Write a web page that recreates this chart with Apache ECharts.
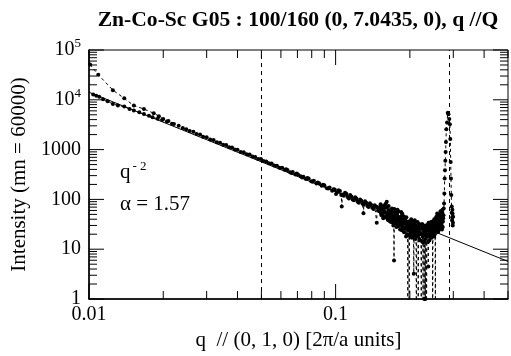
<!DOCTYPE html>
<html>
<head>
<meta charset="utf-8">
<script src="https://cdn.jsdelivr.net/npm/echarts@6/dist/echarts.min.js"></script>
<style>
  html, body { margin: 0; padding: 0; background: #fff; }
  #chart { width: 511px; height: 356px; }
</style>
</head>
<body>
<div id="chart"></div>
<script>
// [q, intensity]
const scanLowQ = [
  [0.0101, 51000], [0.0109, 32000], [0.0125, 15600], [0.0139, 10700], [0.0152, 7640],
  [0.0167, 6530], [0.0183, 5370], [0.0192, 4700], [0.0200, 4100], [0.0210, 3750],
  [0.0221, 3250], [0.0231, 3000]
];
const scanMid = [
  [0.0240, 2700], [0.0248, 2560], [0.0256, 2350], [0.0265, 2280], [0.0273, 2050],
  [0.0282, 2010], [0.0290, 1820], [0.0300, 1780], [0.0310, 1600], [0.0320, 1560],
  [0.0330, 1400], [0.0340, 1380], [0.0350, 1250], [0.0360, 1230], [0.0370, 1120],
  [0.0380, 1100], [0.0390, 1000], [0.0400, 995], [0.0412, 900], [0.0424, 880],
  [0.0436, 805], [0.0448, 795], [0.0460, 725], [0.0472, 712], [0.0485, 650],
  [0.0498, 645], [0.0510, 588], [0.0523, 580], [0.0536, 532], [0.0550, 525],
  [0.0564, 478], [0.0578, 476], [0.0592, 433], [0.0607, 430], [0.0622, 392],
  [0.0638, 390], [0.0654, 352], [0.0670, 355], [0.0687, 316], [0.0704, 318],
  [0.0722, 290], [0.0740, 286], [0.0758, 258], [0.0777, 262], [0.0796, 232],
  [0.0816, 236], [0.0836, 208], [0.0857, 212], [0.0878, 188], [0.0900, 192],
  [0.0922, 168], [0.0945, 174], [0.0968, 150], [0.0992, 158], [0.1016, 140],
  [0.1041, 148], [0.1059, 72], [0.1066, 126], [0.1092, 136], [0.1118, 112],
  [0.1145, 122], [0.1172, 100], [0.1200, 110], [0.1228, 90], [0.1257, 100],
  [0.1286, 82], [0.1297, 53], [0.1316, 92], [0.1346, 74], [0.1377, 84],
  [0.1408, 68], [0.1440, 76], [0.1468, 34], [0.1472, 70], [0.1505, 58]
];
const scanMidExtra = [
  [0.0630, 405], [0.0662, 340], [0.0695, 330], [0.0731, 276], [0.0767, 270],
  [0.0806, 226], [0.0846, 218], [0.0889, 196], [0.0933, 165], [0.0980, 160],
  [0.1004, 128], [0.1028, 152], [0.1054, 122], [0.1079, 118], [0.1105, 130],
  [0.1131, 104], [0.1158, 114], [0.1186, 96], [0.1214, 104], [0.1242, 86],
  [0.1271, 94], [0.1301, 78], [0.1331, 86], [0.1361, 70], [0.1392, 78],
  [0.1424, 64], [0.1456, 72], [0.1488, 60]
];
const scanHighQ = [
  [0.1515, 70], [0.1528, 52], [0.1541, 64], [0.1553, 47], [0.1566, 58],
  [0.1578, 76], [0.1590, 44], [0.1603, 55], [0.1612, 90], [0.1622, 49],
  [0.1634, 38], [0.1645, 60], [0.1657, 43], [0.1668, 52], [0.1680, 35],
  [0.1692, 66], [0.1703, 40], [0.1714, 30], [0.1725, 5.9], [0.1736, 42],
  [0.1748, 55], [0.1759, 33], [0.1770, 48], [0.1781, 62], [0.1792, 29],
  [0.1803, 40], [0.1815, 36], [0.1826, 25], [0.1838, 45], [0.1849, 31],
  [0.1861, 52], [0.1872, 27], [0.1884, 38], [0.1895, 22], [0.1907, 34],
  [0.1918, 41], [0.1930, 18], [0.1942, 30], [0.1953, 26], [0.1962, 0.4],
  [0.1975, 36], [0.1988, 0.6], [0.2000, 28], [0.2012, 20], [0.2025, 40],
  [0.2037, 17], [0.2050, 30], [0.2062, 24], [0.2075, 3.2], [0.2088, 33],
  [0.2100, 19], [0.2112, 27], [0.2125, 0.3], [0.2138, 22], [0.2150, 35],
  [0.2162, 0.7], [0.2175, 25], [0.2188, 16], [0.2200, 30], [0.2212, 21],
  [0.2225, 0.4], [0.2238, 28], [0.2250, 14], [0.2262, 0.5], [0.2275, 24],
  [0.2288, 1.0], [0.2300, 19], [0.2312, 1.0], [0.2325, 26], [0.2338, 0.6],
  [0.2350, 18], [0.2362, 31], [0.2375, 4.5], [0.2388, 23], [0.2400, 15],
  [0.2412, 29], [0.2425, 21], [0.2438, 35], [0.2450, 17], [0.2462, 27],
  [0.2475, 0.5], [0.2488, 32], [0.2500, 24], [0.2512, 40], [0.2525, 20],
  [0.2538, 0.6], [0.2550, 30], [0.2562, 45], [0.2575, 26], [0.2588, 36],
  [0.2600, 22], [0.2612, 50], [0.2625, 30], [0.2638, 38], [0.2650, 27],
  [0.2662, 58], [0.2675, 33], [0.2688, 44], [0.2700, 25], [0.2712, 62],
  [0.2725, 36], [0.2738, 48], [0.2752, 83], [0.2760, 132], [0.2768, 263],
  [0.2776, 385], [0.2785, 600], [0.2793, 890], [0.2801, 1420], [0.2811, 2570],
  [0.2830, 3500], [0.2850, 5500], [0.2868, 5100], [0.2890, 4100], [0.2906, 3240],
  [0.2918, 1630], [0.2928, 565], [0.2936, 263], [0.2945, 123], [0.2955, 54],
  [0.2965, 38], [0.2975, 62], [0.2985, 30], [0.2995, 45]
];
const scanHighQExtra = [
  [0.1509, 62], [0.1522, 80], [0.1535, 48], [0.1547, 72], [0.1560, 42],
  [0.1572, 66], [0.1584, 54], [0.1597, 82], [0.1608, 46], [0.1617, 68],
  [0.1628, 40], [0.1640, 74], [0.1651, 50], [0.1662, 36], [0.1674, 62],
  [0.1686, 44], [0.1697, 56], [0.1708, 34], [0.1720, 48], [0.1731, 64],
  [0.1742, 36], [0.1753, 46], [0.1764, 28], [0.1776, 52], [0.1787, 38],
  [0.1798, 58], [0.1809, 30], [0.1820, 44], [0.1832, 34], [0.1843, 56],
  [0.1855, 24], [0.1866, 40], [0.1878, 32], [0.1889, 46], [0.1901, 26],
  [0.1912, 38], [0.1924, 28], [0.1936, 44], [0.1947, 20], [0.1958, 34],
  [0.1969, 24], [0.1981, 30], [0.1994, 19], [0.2006, 34], [0.2018, 26],
  [0.2031, 22], [0.2043, 36], [0.2056, 18], [0.2068, 28], [0.2081, 22],
  [0.2094, 38], [0.2106, 16], [0.2118, 30], [0.2131, 24], [0.2144, 18],
  [0.2156, 28], [0.2169, 20], [0.2181, 32], [0.2194, 22], [0.2206, 15],
  [0.2218, 26], [0.2231, 20], [0.2244, 32], [0.2256, 18], [0.2269, 28],
  [0.2281, 14], [0.2294, 22], [0.2306, 30], [0.2319, 16], [0.2331, 24],
  [0.2344, 20], [0.2356, 28], [0.2369, 14], [0.2381, 34], [0.2394, 19],
  [0.2406, 26], [0.2419, 17], [0.2431, 24], [0.2444, 30], [0.2456, 20],
  [0.2469, 36], [0.2481, 22], [0.2494, 28], [0.2506, 18], [0.2519, 34],
  [0.2531, 26], [0.2544, 42], [0.2556, 24], [0.2569, 32], [0.2581, 52],
  [0.2594, 28], [0.2606, 40], [0.2619, 24], [0.2631, 46], [0.2644, 34],
  [0.2656, 28], [0.2669, 50], [0.2681, 30], [0.2694, 40], [0.2706, 54],
  [0.2719, 28], [0.2731, 42], [0.2744, 66], [0.2958, 72], [0.2970, 44],
  [0.2980, 52], [0.2990, 34]
];
// second low-q scan lying on the fit line
const scanLowBranch = [
  [0.0104, 12800], [0.0107, 12000], [0.0110, 11500], [0.0114, 10300], [0.0119, 9300],
  [0.0125, 8220], [0.0131, 7700], [0.0139, 7300], [0.0146, 6500], [0.0152, 6080],
  [0.0160, 5600], [0.0167, 5200], [0.0175, 4800], [0.0181, 4470], [0.0190, 4150],
  [0.0198, 3950], [0.0207, 3650], [0.0217, 3300]
];
// q^-2 guide line end points
const fitLine = [[0.01, 14200], [0.5, 5.68]];
// fit range markers
const fitRange = [0.0493, 0.291];

const xTickMajor = [0.01, 0.1];
const xTickMinor = [0.02, 0.03, 0.04, 0.05, 0.06, 0.07, 0.08, 0.09, 0.2, 0.3, 0.4, 0.5];
const yTickMajor = [1, 10, 100, 1000, 10000, 100000];
const yTickMinor = [];
yTickMajor.slice(0, -1).forEach(d => {
  for (let k = 2; k <= 9; k++) yTickMinor.push(d * k);
});

const serif = "Liberation Serif";
const chart = echarts.init(document.getElementById("chart"), null, { renderer: "canvas" });

const scan = scanLowQ.concat(scanMid, scanMidExtra, scanHighQ, scanHighQExtra)
  .sort((a, b) => a[0] - b[0]);
const xTickData = xTickMajor.map(v => [v, 10, 15]).concat(xTickMinor.map(v => [v, 10, 8]));
const yTickData = yTickMajor.map(v => [0.1, v, 15]).concat(yTickMinor.map(v => [0.1, v, 8]));

function yLabel(v) {
  const e = Math.round(Math.log10(v));
  if (Math.abs(Math.log10(v) - e) > 1e-6) return "";
  if (e >= 4) return "{b|10}{s|" + e + "}";
  return "{b|" + Math.pow(10, e) + "}";
}
function xLabel(v) {
  const e = Math.round(Math.log10(v));
  if (Math.abs(Math.log10(v) - e) > 1e-6) return "";
  return e === -2 ? "0.01" : e === -1 ? "0.1" : String(v);
}

chart.setOption({
  animation: false,
  backgroundColor: "#fff",
  grid: {
    left: 89, right: 1, top: 50, bottom: 54,
    show: true, borderColor: "#000", borderWidth: 1
  },
  xAxis: {
    type: "log", logBase: 10, min: 0.01, max: 0.5,
    name: "q  // (0, 1, 0) [2π/a units]",
    nameLocation: "middle", nameGap: 31,
    nameTextStyle: { fontFamily: serif, fontSize: 21, color: "#000" },
    axisLine: { onZero: false, lineStyle: { color: "#000", width: 1.5 } },
    axisTick: { show: false },
    splitLine: { show: false },
    axisLabel: {
      formatter: xLabel, margin: 6, showMinLabel: true, showMaxLabel: true,
      fontFamily: serif, fontSize: 20, color: "#000"
    }
  },
  yAxis: {
    type: "log", logBase: 10, min: 1, max: 100000,
    name: "Intensity (mn = 60000)",
    nameLocation: "middle", nameGap: 58,
    nameTextStyle: { fontFamily: serif, fontSize: 21, color: "#000" },
    axisLine: { onZero: false, lineStyle: { color: "#000", width: 1.5 } },
    axisTick: { show: false },
    splitLine: { show: false },
    axisLabel: {
      formatter: yLabel, margin: 8,
      rich: {
        b: { fontFamily: serif, fontSize: 20, color: "#000" },
        s: { fontFamily: serif, fontSize: 13, color: "#000", verticalAlign: "top", padding: [0, 0, 12, 0] }
      }
    }
  },
  graphic: [
    {
      type: "text", x: 298, y: 9,
      style: {
        text: "Zn-Co-Sc G05 : 100/160 (0, 7.0435, 0), q //Q",
        font: "bold 21.6px 'Liberation Serif'", fill: "#000", textAlign: "center"
      }
    },
    {
      type: "text", left: 120, top: 160,
      style: {
        text: "{b|q}{s|- 2}",
        rich: {
          b: { fontFamily: serif, fontSize: 21, fill: "#000" },
          s: { fontFamily: serif, fontSize: 13, fill: "#000", verticalAlign: "top", padding: [0, 0, 12, 2] }
        }
      }
    },
    {
      type: "text", left: 120, top: 194,
      style: { text: "α = 1.57", font: "21px 'Liberation Serif'", fill: "#000" }
    }
  ],
  series: [
    {
      type: "line",
      data: fitLine,
      showSymbol: false,
      lineStyle: { color: "#000", width: 1 },
      silent: true,
      z: 3,
      markLine: {
        silent: true,
        symbol: ["none", "none"],
        label: { show: false },
        lineStyle: { color: "#000", width: 1, type: [4, 4] },
        data: fitRange.map(q => ({ xAxis: q }))
      }
    },
    {
      type: "line",
      data: scanLowBranch,
      symbol: "circle", symbolSize: 4,
      itemStyle: { color: "#000" },
      lineStyle: { color: "#000", width: 1, type: [3, 3] },
      silent: true,
      z: 4
    },
    {
      type: "line",
      data: scan,
      symbol: "circle", symbolSize: 4,
      itemStyle: { color: "#000" },
      lineStyle: { color: "#000", width: 1, type: [3, 3] },
      silent: true,
      clip: true,
      z: 4
    },
    {
      type: "custom",
      silent: true,
      clip: false,
      dimensions: ["x", "y", "len"],
      encode: { x: 0, y: 1 },
      data: xTickData,
      z: 5,
      renderItem(params, api) {
        const cs = params.coordSys;
        const x = api.coord([api.value(0), 10])[0];
        const len = api.value(2);
        const b = cs.y + cs.height;
        return {
          type: "group",
          children: [
            { type: "line", shape: { x1: x, y1: b, x2: x, y2: b - len }, style: { stroke: "#000", lineWidth: 1 } },
            { type: "line", shape: { x1: x, y1: cs.y, x2: x, y2: cs.y + len }, style: { stroke: "#000", lineWidth: 1 } }
          ]
        };
      }
    },
    {
      type: "custom",
      silent: true,
      clip: false,
      dimensions: ["x", "y", "len"],
      encode: { x: 0, y: 1 },
      data: yTickData,
      z: 5,
      renderItem(params, api) {
        const cs = params.coordSys;
        const y = api.coord([0.1, api.value(1)])[1];
        const len = api.value(2);
        const r = cs.x + cs.width;
        return {
          type: "group",
          children: [
            { type: "line", shape: { x1: cs.x, y1: y, x2: cs.x + len, y2: y }, style: { stroke: "#000", lineWidth: 1 } },
            { type: "line", shape: { x1: r, y1: y, x2: r - len, y2: y }, style: { stroke: "#000", lineWidth: 1 } }
          ]
        };
      }
    }
  ]
});
</script>
</body>
</html>
